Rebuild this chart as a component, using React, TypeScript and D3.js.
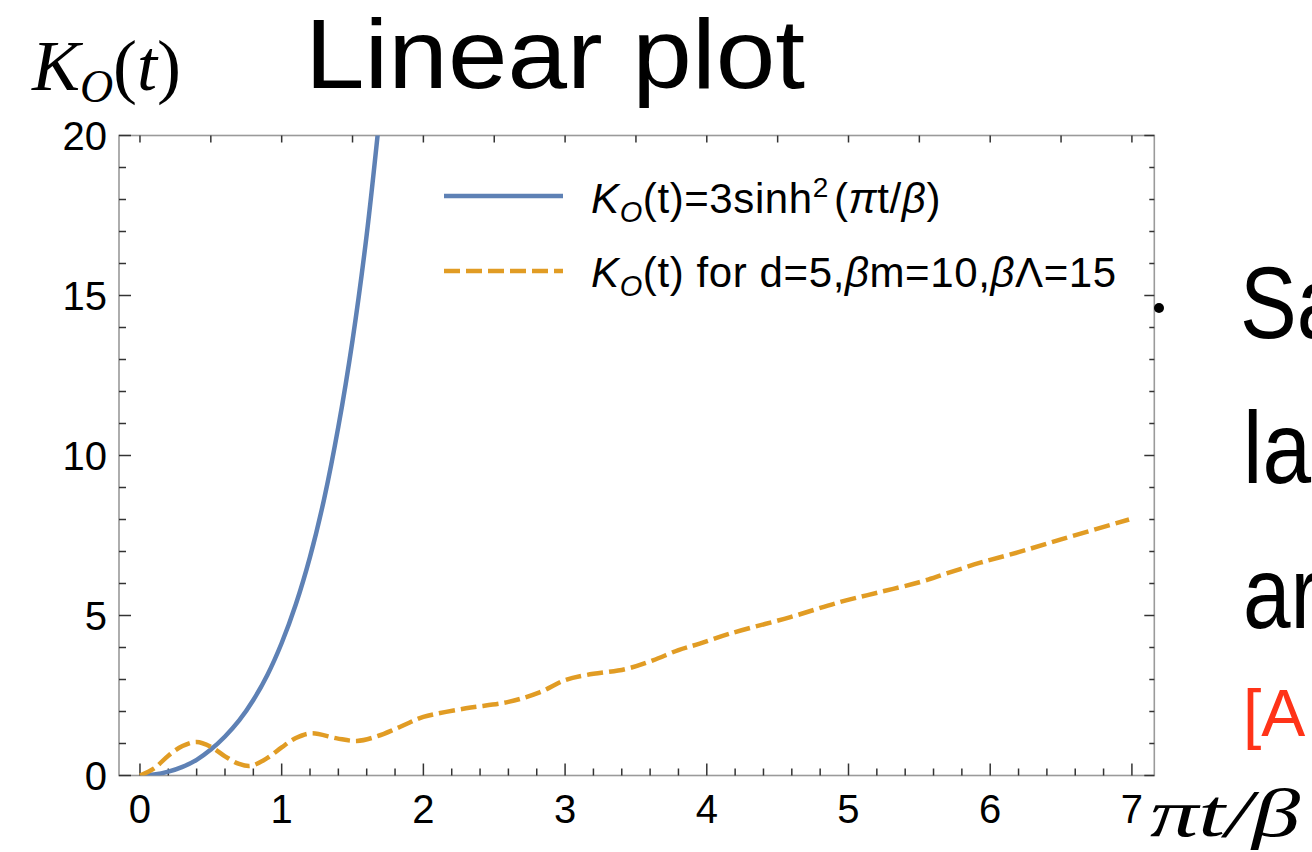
import React from "react";
import * as d3 from "d3";

// values
const blueT = [0, 0.1, 0.2, 0.3, 0.4, 0.5, 0.6, 0.7, 0.8, 0.9, 1.0, 1.1, 1.2, 1.3, 1.4, 1.5, 1.6, 1.7];
const blueK = [0, 0.03, 0.12, 0.27, 0.49, 0.81, 1.22, 1.72, 2.36, 3.15, 4.14, 5.35, 6.83, 8.65, 10.9, 13.6, 16.9, 21.0];

const orangeT = [0, 0.1, 0.2, 0.3, 0.4, 0.5, 0.6, 0.7, 0.78, 0.9, 1.0, 1.1, 1.21, 1.39, 1.53, 1.67, 1.8, 1.9, 2.0, 2.3, 2.6, 2.82, 3.0, 3.15, 3.43, 3.62, 3.8, 3.95, 4.16, 4.59, 4.94, 5.22, 5.5, 5.69, 5.93, 6.2, 6.5, 6.98];
const orangeK = [0, 0.22, 0.62, 0.92, 1.05, 0.9, 0.6, 0.36, 0.3, 0.55, 0.88, 1.17, 1.32, 1.16, 1.08, 1.22, 1.45, 1.65, 1.83, 2.1, 2.3, 2.6, 2.98, 3.14, 3.33, 3.6, 3.92, 4.12, 4.43, 4.95, 5.42, 5.73, 6.04, 6.31, 6.65, 6.98, 7.38, 8.0];

const xTickLabels = [0, 1, 2, 3, 4, 5, 6, 7];
const yTickLabels = [0, 5, 10, 15, 20];
const seriesColors = ["#5E81B5", "#E19C24"];

const frame = { left: 119, right: 1154.3, top: 135.5, bottom: 775.5 };
const sans = "'Liberation Sans', Arial, sans-serif";
const serif = "'Liberation Serif', 'Times New Roman', serif";

export default function App() {
  const x = d3.scaleLinear().domain([-0.148, 7.158]).range([frame.left, frame.right]);
  const y = d3.scaleLinear().domain([0, 20]).range([frame.bottom, frame.top]);

  const line = d3
    .line<[number, number]>()
    .x((d) => x(d[0]))
    .y((d) => y(d[1]))
    .curve(d3.curveCatmullRom.alpha(0.5));

  const bluePath = line(blueT.map((t, i) => [t, blueK[i]] as [number, number]));
  const orangePath = line(orangeT.map((t, i) => [t, orangeK[i]] as [number, number]));

  const bottomTicks = d3.range(0, 36).map((i) => +(i * 0.2).toFixed(1));
  const topTicks = d3.range(0, 15).map((i) => i * 0.5);
  const sideTicks = d3.range(0, 21);

  return (
    <svg
      width={1312}
      height={852}
      style={{ position: "absolute", left: 0, top: 0, background: "#fff" }}
    >
      <defs>
        <clipPath id="plot-clip">
          <rect x={frame.left} y={frame.top} width={frame.right - frame.left} height={frame.bottom - frame.top} />
        </clipPath>
      </defs>

      {/* frame */}
      <rect
        x={frame.left}
        y={frame.top}
        width={frame.right - frame.left}
        height={frame.bottom - frame.top}
        fill="none"
        stroke="#9a9a9a"
        strokeWidth={1.6}
      />

      {/* ticks */}
      <g stroke="#333" strokeWidth={1.5}>
        {bottomTicks.map((t) => {
          const major = Math.abs(t - Math.round(t)) < 1e-6;
          return <line key={"b" + t} x1={x(t)} x2={x(t)} y1={frame.bottom} y2={frame.bottom - (major ? 12 : 7)} />;
        })}
        {topTicks.map((t) => (
          <line key={"t" + t} x1={x(t)} x2={x(t)} y1={frame.top} y2={frame.top + 7} />
        ))}
        {sideTicks.map((v) => {
          const major = v % 5 === 0;
          return (
            <g key={"s" + v}>
              <line x1={frame.left} x2={frame.left + (major ? 12 : 7)} y1={y(v)} y2={y(v)} />
              <line x1={frame.right} x2={frame.right - (major ? 10 : 5)} y1={y(v)} y2={y(v)} />
            </g>
          );
        })}
      </g>

      {/* tick labels */}
      <g fontFamily={sans} fontSize={40} fill="#000">
        {xTickLabels.map((t) => (
          <text key={"xl" + t} x={x(t)} y={823} textAnchor="middle">
            {t}
          </text>
        ))}
        {yTickLabels.map((v) => (
          <text key={"yl" + v} x={107} y={y(v)} dy="0.36em" textAnchor="end">
            {v}
          </text>
        ))}
      </g>

      {/* curves */}
      <g clipPath="url(#plot-clip)" fill="none" strokeWidth={4.5}>
        <path d={bluePath || ""} stroke={seriesColors[0]} />
        <path d={orangePath || ""} stroke={seriesColors[1]} strokeDasharray="16,6" />
      </g>

      {/* legend */}
      <line x1={444} x2={563} y1={196} y2={196} stroke={seriesColors[0]} strokeWidth={4.5} />
      <line x1={444} x2={563} y1={271} y2={271} stroke={seriesColors[1]} strokeWidth={4.5} strokeDasharray="16,6" />
      <g fontFamily={sans} fontSize={42} fill="#000" letterSpacing={0.6}>
        <text x={591} y={213}>
          <tspan fontStyle="italic">K</tspan>
          <tspan fontStyle="italic" fontSize={29} dy={9}>O</tspan>
          <tspan dy={-9}>(t)=3sinh</tspan>
          <tspan fontSize={28} dy={-16}>2</tspan>
          <tspan dy={16} dx={5}>(</tspan>
          <tspan fontStyle="italic">π</tspan>
          <tspan>t/</tspan>
          <tspan fontStyle="italic">β</tspan>
          <tspan>)</tspan>
        </text>
        <text x={591} y={287}>
          <tspan fontStyle="italic">K</tspan>
          <tspan fontStyle="italic" fontSize={29} dy={9}>O</tspan>
          <tspan dy={-9}>(t) for d=5,</tspan>
          <tspan fontStyle="italic">β</tspan>
          <tspan>m=10,</tspan>
          <tspan fontStyle="italic">β</tspan>
          <tspan>Λ=15</tspan>
        </text>
      </g>

      {/* axis labels */}
      <g fontFamily={serif} fill="#000">
        <text x={32} y={90} fontSize={72} fontStyle="italic">K</text>
        <text x={80} y={102} fontSize={46} fontStyle="italic">O</text>
        <text x={113} y={90} fontSize={72}>
          (<tspan fontStyle="italic">t</tspan>)
        </text>
        <text x={1150} y={836} fontSize={68} fontStyle="italic" textLength={150} lengthAdjust="spacingAndGlyphs">
          πt/β
        </text>
      </g>

      {/* title */}
      <text x={305} y={88} fontFamily={sans} fontSize={98} textLength={500} lengthAdjust="spacingAndGlyphs">
        Linear plot
      </text>

      {/* slide text at right edge */}
      <circle cx={1159} cy={308} r={5} fill="#000" />
      <g fontFamily={sans} fontSize={102} fill="#000" lengthAdjust="spacingAndGlyphs">
        <text x={1240} y={338} textLength={104} lengthAdjust="spacingAndGlyphs">Sa</text>
        <text x={1243} y={483} textLength={68} lengthAdjust="spacingAndGlyphs">la</text>
        <text x={1243} y={628} textLength={76} lengthAdjust="spacingAndGlyphs">ar</text>
      </g>
      <text x={1243} y={736} fontFamily={sans} fontSize={66} fill="#FF3318">
        [A
      </text>
    </svg>
  );
}
